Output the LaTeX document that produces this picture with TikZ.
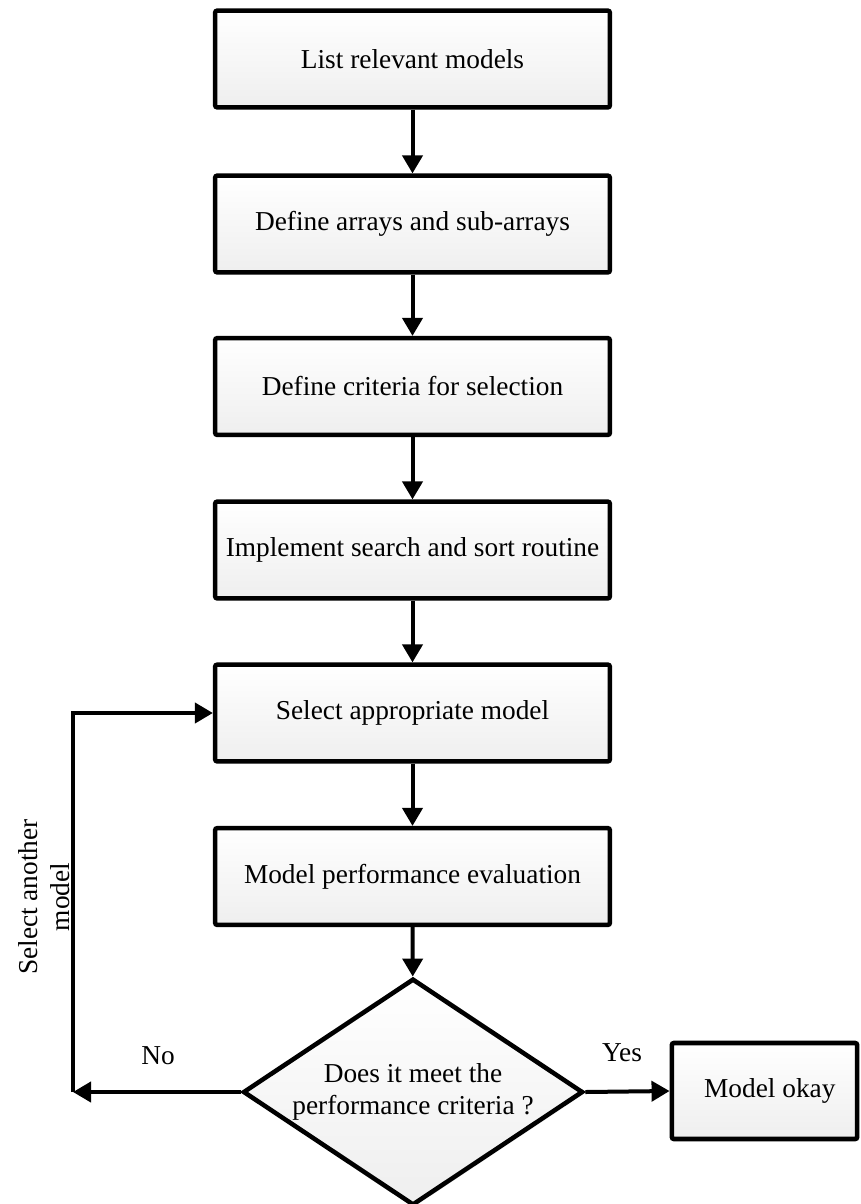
\documentclass[tikz,border=0pt]{standalone}
\usepackage{fontspec}
\setmainfont{Liberation Serif}
\usetikzlibrary{arrows.meta,shapes.geometric,shadows}
\begin{document}
\begin{tikzpicture}[x=0.75pt,y=-0.75pt,
  every node/.style={font=\fontsize{20.5}{24}\selectfont},
  stepbox/.style={draw=black, line width=3.4pt, rounded corners=1.5pt,
    top color=white, bottom color=gray!13,
    drop shadow={shadow xshift=1.5pt, shadow yshift=-1.5pt, fill=gray!20, opacity=0.5},
    minimum width=296pt, minimum height=72.5pt, inner sep=0pt, align=center},
  decision/.style={draw=black, line width=3.4pt, diamond, aspect=1.5,
    top color=white, bottom color=gray!13,
    drop shadow={shadow xshift=1.5pt, shadow yshift=-1.5pt, fill=gray!20, opacity=0.5},
    minimum width=255pt, minimum height=170pt, inner sep=0pt, align=center},
  arr/.style={line width=3pt, -{Triangle[length=13.5pt,width=15pt]}},
  lbl/.style={inner sep=0pt}]
\useasboundingbox (0,0) rectangle (861,1204);
\node[stepbox] (b1) at (412.5,59) {List relevant models};
\node[stepbox] (b2) at (412.5,224) {Define arrays and sub-arrays};
\node[stepbox] (b3) at (412.5,386.5) {Define criteria for selection};
\node[stepbox] (b4) at (412.5,550) {Implement search and sort routine};
\node[stepbox] (b5) at (412.5,713) {Select appropriate model};
\node[stepbox] (b6) at (412.5,876.5) {Model performance evaluation};
\node[decision] (d) at (413,1092) {Does it meet the\\performance criteria ?};
\node[stepbox, minimum width=139pt, minimum height=72pt] (ok) at (764.5,1091) {\hspace*{8pt}Model okay};
\coordinate (lc) at (73,1092);
\coordinate (tc) at (73,713);
\draw[arr] (b1) -- (b2);
\draw[arr] (b2) -- (b3);
\draw[arr] (b3) -- (b4);
\draw[arr] (b4) -- (b5);
\draw[arr] (b5) -- (b6);
\draw[arr] (b6) -- (d);
\draw[arr] (d.east) -- (ok.west);
\draw[arr] (d.west) -- (lc);
\draw[arr] (lc) -- (tc) -- (b5.west);
\node[lbl] (no) at (158,1056) {No};
\node[lbl] (yes) at (622,1053) {Yes};
\node[lbl, rotate=90, align=center] (sel) at (44,897) {Select another\\model};
\end{tikzpicture}
\end{document}
